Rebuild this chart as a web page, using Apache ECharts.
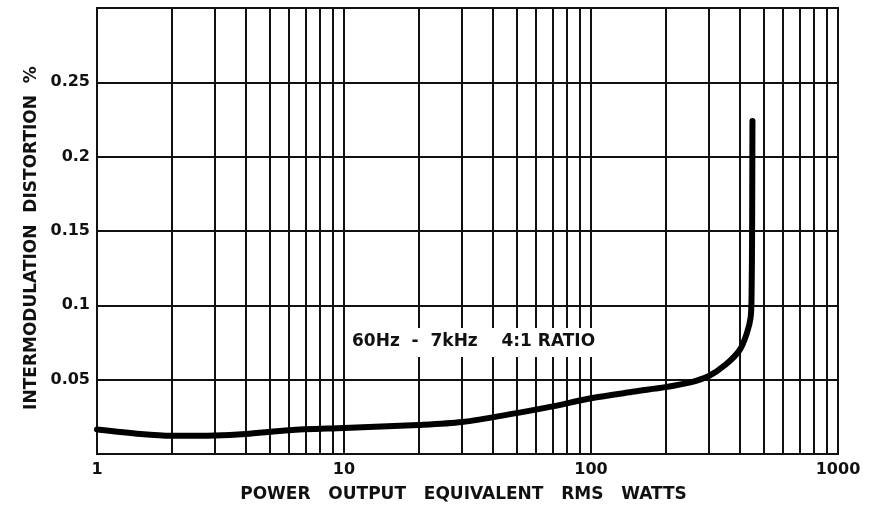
<!DOCTYPE html>
<html>
<head>
<meta charset="utf-8">
<script src="https://cdn.jsdelivr.net/npm/echarts@6/dist/echarts.min.js"></script>
<style>
  html, body { margin: 0; padding: 0; background: #fff; }
  #chart { width: 874px; height: 506px; }
</style>
</head>
<body>
<div id="chart"></div>
<script>
// power output (W)
var watts = [1, 1.5, 2, 3, 4, 6, 10, 20, 30, 50, 70, 100, 150, 200, 250, 300, 350, 400, 427, 443, 447, 449, 450, 450.5];
// IM distortion (%)
var imd = [0.0165, 0.0135, 0.0123, 0.0125, 0.0135, 0.016, 0.0175, 0.0195, 0.0215, 0.0275, 0.032, 0.0375, 0.042, 0.045, 0.048, 0.0525, 0.060, 0.070, 0.081, 0.092, 0.11, 0.15, 0.2, 0.224];
// log paper minor lines
var minorX = [2, 3, 4, 5, 6, 7, 8, 9, 20, 30, 40, 50, 60, 70, 80, 90, 200, 300, 400, 500, 600, 700, 800, 900];
var yTicks = [0.05, 0.1, 0.15, 0.2, 0.25];
var note = '60Hz  -  7kHz    4:1 RATIO';

var ink = '#111';
var font = '"DejaVu Sans", sans-serif';

var chart = echarts.init(document.getElementById('chart'));
chart.setOption({
    backgroundColor: '#fff',
    animation: false,
    grid: {
        left: 97, right: 36, top: 8, bottom: 52,
        outerBoundsMode: 'none',
        show: true, borderColor: ink, borderWidth: 2
    },
    xAxis: {
        type: 'log', logBase: 10, min: 1, max: 1000,
        name: 'POWER   OUTPUT   EQUIVALENT   RMS   WATTS',
        nameLocation: 'middle', nameGap: 32,
        nameTextStyle: { color: ink, fontFamily: font, fontWeight: 'bold', fontSize: 17, padding: [0, 8, 0, 0] },
        axisLine: { lineStyle: { color: ink, width: 2 } },
        axisTick: { show: false },
        axisLabel: {
            color: ink, fontFamily: font, fontWeight: 'bold', fontSize: 16, margin: 8,
            formatter: function (v) { return String(Math.round(v)); }
        },
        splitLine: { show: true, lineStyle: { color: ink, width: 2 } }
    },
    yAxis: {
        type: 'value', min: 0, max: 0.3, interval: 0.05,
        name: 'INTERMODULATION  DISTORTION  %',
        nameLocation: 'middle', nameGap: 48, nameRotate: 90,
        nameTextStyle: { color: ink, fontFamily: font, fontWeight: 'bold', fontSize: 17, padding: [0, 14, 0, 0] },
        axisLine: { show: true, lineStyle: { color: ink, width: 2 } },
        axisTick: { show: false },
        axisLabel: {
            color: ink, fontFamily: font, fontWeight: 'bold', fontSize: 16, margin: 7,
            formatter: function (v) {
                var r = parseFloat(v.toFixed(2));
                return yTicks.indexOf(r) >= 0 ? String(r) : '';
            }
        },
        splitLine: { show: true, lineStyle: { color: ink, width: 2 } }
    },
    series: [{
        type: 'line',
        data: watts.map(function (w, i) { return [w, imd[i]]; }),
        showSymbol: false,
        smooth: 0.3,
        lineStyle: { color: '#000', width: 6, cap: 'round', join: 'round' },
        z: 5,
        markLine: {
            silent: true,
            symbol: 'none',
            label: { show: false },
            lineStyle: { color: ink, width: 2, type: 'solid' },
            data: minorX.map(function (v) { return { xAxis: v }; }),
            z: 1
        }
    }],
    graphic: [{
        type: 'text',
        left: 349, top: 328,
        z: 100,
        style: {
            text: note,
            fill: ink,
            font: 'bold 17px ' + font,
            backgroundColor: '#fff',
            padding: [5, 3, 7, 3]
        }
    }]
});
</script>
</body>
</html>
